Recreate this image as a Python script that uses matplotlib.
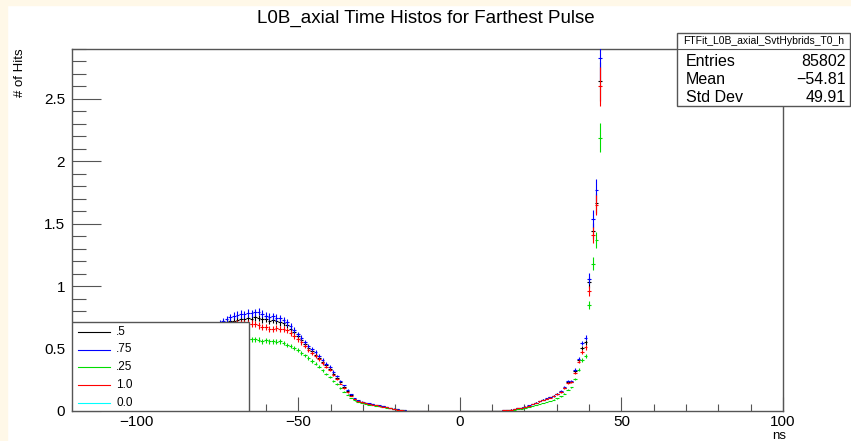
import numpy as np
import matplotlib
matplotlib.use("Agg")
import matplotlib.pyplot as plt
from matplotlib.patches import Rectangle
from matplotlib.ticker import MultipleLocator, FormatStrFormatter

plt.rcParams['font.family'] = ['Liberation Sans', 'DejaVu Sans']

# histogram binning: 200 bins from -120 to 100 ns, data listed from bin 40 onward
hist_lo = -120.0
bin_w = 1.1
first_bin = 40

# bin contents (bins 40..148)
h_05 = [0.66, 0.68, 0.70, 0.71, 0.72, 0.725, 0.73, 0.735, 0.74, 0.745,
        0.74, 0.75, 0.745, 0.735, 0.74, 0.725, 0.73, 0.72, 0.71, 0.705,
        0.69, 0.66, 0.63, 0.60, 0.57, 0.535, 0.505, 0.48, 0.45, 0.425,
        0.395, 0.365, 0.34, 0.30, 0.265, 0.23, 0.195, 0.16, 0.128, 0.10,
        0.082, 0.072, 0.065, 0.06, 0.054, 0.048, 0.043, 0.037, 0.031, 0.025,
        0.019, 0.013, 0.008, 0.005, 0.002] + [0.0] * 25 + \
       [0.003, 0.005, 0.008, 0.012, 0.017, 0.022, 0.028, 0.035, 0.044, 0.057,
        0.067, 0.078, 0.090, 0.100, 0.110, 0.121, 0.137, 0.156, 0.188, 0.232,
        0.236, 0.318, 0.405, 0.505, 0.55, 1.03, 1.44, 1.67, 2.64]

h_075 = [0.68, 0.70, 0.72, 0.735, 0.75, 0.765, 0.77, 0.778, 0.775, 0.785,
         0.783, 0.79, 0.795, 0.78, 0.765, 0.755, 0.76, 0.748, 0.743, 0.73,
         0.71, 0.68, 0.65, 0.615, 0.585, 0.55, 0.52, 0.495, 0.47, 0.44,
         0.41, 0.38, 0.355, 0.315, 0.28, 0.243, 0.205, 0.17, 0.135, 0.105,
         0.085, 0.075, 0.068, 0.062, 0.056, 0.050, 0.045, 0.039, 0.032, 0.026,
         0.020, 0.014, 0.009, 0.005, 0.003] + [0.0] * 25 + \
        [0.003, 0.005, 0.008, 0.012, 0.017, 0.022, 0.028, 0.036, 0.045, 0.058,
         0.068, 0.080, 0.092, 0.103, 0.112, 0.124, 0.140, 0.160, 0.192, 0.238,
         0.240, 0.330, 0.420, 0.545, 0.588, 1.06, 1.54, 1.77, 2.83]

h_025 = [0.53, 0.545, 0.555, 0.56, 0.57, 0.57, 0.575, 0.57, 0.575, 0.58,
         0.575, 0.575, 0.57, 0.56, 0.565, 0.558, 0.56, 0.555, 0.56, 0.545,
         0.53, 0.52, 0.505, 0.49, 0.465, 0.445, 0.425, 0.40, 0.38, 0.355,
         0.325, 0.295, 0.27, 0.24, 0.215, 0.185, 0.155, 0.13, 0.105, 0.085,
         0.073, 0.064, 0.057, 0.052, 0.047, 0.042, 0.037, 0.032, 0.026, 0.021,
         0.016, 0.011, 0.007, 0.004, 0.002] + [0.0] * 25 + \
        [0.002, 0.003, 0.005, 0.007, 0.010, 0.014, 0.018, 0.024, 0.030, 0.038,
         0.046, 0.055, 0.064, 0.072, 0.080, 0.090, 0.102, 0.117, 0.140, 0.172,
         0.190, 0.254, 0.330, 0.410, 0.443, 0.85, 1.18, 1.37, 2.19]

h_10 = [0.64, 0.66, 0.675, 0.685, 0.69, 0.695, 0.70, 0.70, 0.705, 0.70,
        0.70, 0.695, 0.685, 0.676, 0.67, 0.66, 0.655, 0.662, 0.655, 0.66,
        0.645, 0.625, 0.60, 0.575, 0.55, 0.52, 0.49, 0.465, 0.44, 0.415,
        0.385, 0.355, 0.33, 0.29, 0.255, 0.22, 0.185, 0.15, 0.12, 0.095,
        0.078, 0.07, 0.063, 0.058, 0.052, 0.047, 0.042, 0.036, 0.03, 0.024,
        0.018, 0.012, 0.007, 0.004, 0.002] + [0.0] * 25 + \
       [0.003, 0.005, 0.008, 0.012, 0.016, 0.021, 0.027, 0.035, 0.043, 0.056,
        0.066, 0.077, 0.089, 0.099, 0.108, 0.119, 0.134, 0.152, 0.183, 0.226,
        0.230, 0.305, 0.395, 0.470, 0.510, 0.96, 1.41, 1.65, 2.60]

h_00 = []  # nothing drawn for this one

labels = ['.5', '.75', '.25', '1.0', '0.0']
colors = ['black', '#0000ff', '#00dd00', '#ff0000', '#00ffff']
series = [h_05, h_075, h_025, h_10, h_00]

stats = [('Entries', '85802'), ('Mean', '\u221254.81'), ('Std Dev', '49.91')]

W, H = 851, 441
fig = plt.figure(figsize=(W / 100, H / 100), dpi=100)
fig.patch.set_facecolor('white')
cream = '#fff8e8'
fig.add_artist(Rectangle((0, 0), 7 / W, 1, transform=fig.transFigure, color=cream, zorder=0))
fig.add_artist(Rectangle((0, 1 - 5 / H), 1, 5 / H, transform=fig.transFigure, color=cream, zorder=0))

x0, x1, y0, y1 = 72, 783, 49, 411
ax = fig.add_axes([x0 / W, (H - y1) / H, (x1 - x0) / W, (y1 - y0) / H])

for vals, col in zip(series, colors):
    if len(vals) == 0:
        continue
    v = np.array(vals)
    idx = np.arange(first_bin, first_bin + len(v))
    xc = hist_lo + bin_w * (idx + 0.5)
    err = 0.028 * v + 0.012 * v ** 2
    ax.errorbar(xc, v, xerr=bin_w / 2, yerr=err, fmt='none',
                ecolor=col, elinewidth=0.8, capsize=0, zorder=3)

ax.set_xlim(-120, 100)
ax.set_ylim(0, 2.9)

gray = '#555555'
for s in ax.spines.values():
    s.set_color(gray)
    s.set_linewidth(1.0)
ax.xaxis.set_major_locator(MultipleLocator(50))
ax.xaxis.set_minor_locator(MultipleLocator(10))
ax.yaxis.set_major_locator(MultipleLocator(0.5))
ax.yaxis.set_minor_locator(MultipleLocator(0.1))
ax.yaxis.set_major_formatter(FormatStrFormatter('%g'))
ax.tick_params(axis='x', which='major', direction='in', length=10, width=0.8, color=gray,
               labelsize=11, pad=3)
ax.tick_params(axis='x', which='minor', direction='in', length=5, width=0.8, color=gray)
ax.tick_params(axis='y', which='major', direction='in', length=21, width=0.8, color=gray,
               labelsize=11, pad=5)
ax.tick_params(axis='y', which='minor', direction='in', length=10, width=0.8, color=gray)

fig.text(426 / W, 1 - 18 / H, 'L0B_axial Time Histos for Farthest Pulse',
         ha='center', va='center', fontsize=13.5)
fig.text(20 / W, 1 - 48 / H, '# of Hits', rotation=90, ha='center', va='top', fontsize=9.5)
fig.text(786 / W, 1 - 436 / H, 'ns', ha='right', va='center', fontsize=9.5)

# legend box in the lower left corner
lx1 = (249 - x0) / (x1 - x0)
ly1 = (y1 - 321.7) / (y1 - y0)
ax.add_patch(Rectangle((0, 0), lx1, ly1, transform=ax.transAxes, facecolor='white',
                       edgecolor=gray, linewidth=1.0, zorder=5))
for i, (lab, col) in enumerate(zip(labels, colors)):
    yy = (y1 - (331.7 + 17.8 * i)) / (y1 - y0)
    ax.plot([0.0084, 0.0534], [yy, yy], color=col, lw=0.8, transform=ax.transAxes, zorder=6)
    ax.text(0.062, yy, lab, transform=ax.transAxes, va='center', ha='left', fontsize=8.5, zorder=6)

# stats box at the top right
bx0, bx1, by0, by1 = 677, 850, 33, 106
fig.add_artist(Rectangle((bx0 / W, 1 - by1 / H), (bx1 - bx0) / W, (by1 - by0) / H,
                         transform=fig.transFigure, facecolor='white', edgecolor=gray,
                         linewidth=1.0, zorder=10))
fig.add_artist(plt.Line2D([bx0 / W, bx1 / W], [1 - 49 / H, 1 - 49 / H], transform=fig.transFigure,
                          color=gray, lw=0.8, zorder=11))
fig.text((bx0 + bx1) / 2 / W, 1 - 41 / H, 'FTFit_L0B_axial_SvtHybrids_T0_h', ha='center',
         va='center', fontsize=7.5, zorder=12)
for i, (name, val) in enumerate(stats):
    yy = 1 - (61 + 18.5 * i) / H
    fig.text(686 / W, yy, name, ha='left', va='center', fontsize=11.5, zorder=12)
    fig.text(846 / W, yy, val, ha='right', va='center', fontsize=11.5, zorder=12)

fig.savefig('out.png', dpi=100)
